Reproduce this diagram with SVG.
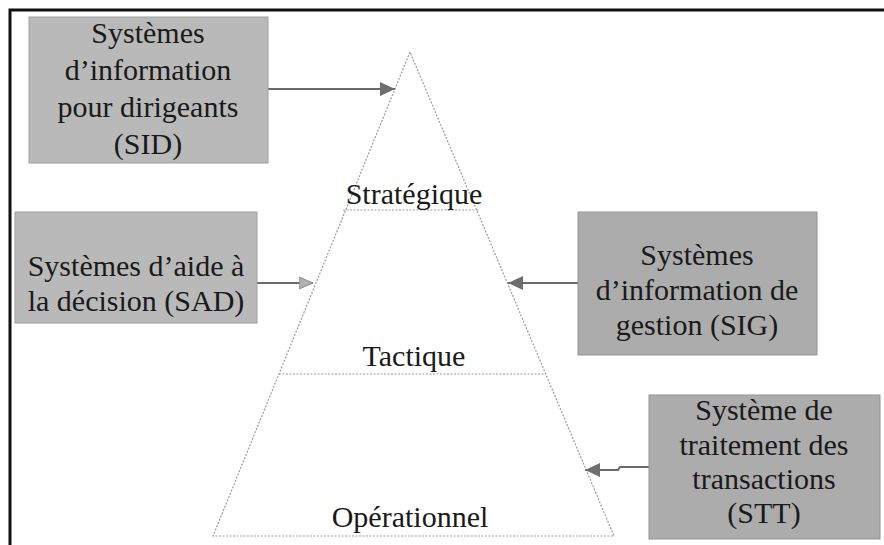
<svg xmlns="http://www.w3.org/2000/svg" width="884" height="545" viewBox="0 0 884 545">
<defs>
<marker id="ah" markerUnits="userSpaceOnUse" markerWidth="16" markerHeight="16" refX="15" refY="8" orient="auto">
<path d="M0,1 L15,8 L0,15 Z" fill="#6e6e6e"/>
</marker>
<marker id="ahl" markerUnits="userSpaceOnUse" markerWidth="16" markerHeight="16" refX="14" refY="7" orient="auto">
<path d="M0,1 L14,7 L0,13 Z" fill="#b0b0b0" stroke="#8a8a8a" stroke-width="1"/>
</marker>
</defs>
<rect width="884" height="545" fill="#ffffff"/>
<g id="frame">
<path d="M10,545 V10 H884" fill="none" stroke="#111" stroke-width="3"/>
</g>
<g id="pyramid" fill="none" stroke="#9a9a9a" stroke-width="1.2" stroke-dasharray="2 1.5">
<path d="M410,52 L213,536 L614,536 Z"/>
<line x1="343" y1="210" x2="478" y2="210"/>
<line x1="279" y1="374" x2="546" y2="374"/>
</g>
<g id="levels">
<text x="414" y="204" font-family="Liberation Serif, Times New Roman, serif" font-size="30" fill="#1a1a1a" text-anchor="middle">Stratégique</text>
<text x="414" y="366" font-family="Liberation Serif, Times New Roman, serif" font-size="30" fill="#1a1a1a" text-anchor="middle">Tactique</text>
<text x="410" y="527" font-family="Liberation Serif, Times New Roman, serif" font-size="30" fill="#1a1a1a" text-anchor="middle">Opérationnel</text>
</g>
<g id="connectors" stroke="#6a6a6a" stroke-width="2" fill="none">
<line x1="268" y1="89" x2="395" y2="89" marker-end="url(#ah)"/>
<line x1="257" y1="283" x2="313" y2="283" marker-end="url(#ahl)"/>
<line x1="578" y1="283" x2="508" y2="283" marker-end="url(#ah)"/>
<polyline points="649,467 620,467 618,470 585,470" marker-end="url(#ah)"/>
</g>
<g id="SID">
<rect x="29" y="17" width="239" height="146" fill="#b9b9b9" stroke="#a0a0a0"/>
<text x="148" y="43" font-family="Liberation Serif, Times New Roman, serif" font-size="30" fill="#1a1a1a" text-anchor="middle">Systèmes</text>
<text x="148" y="80" font-family="Liberation Serif, Times New Roman, serif" font-size="30" fill="#1a1a1a" text-anchor="middle">d’information</text>
<text x="148" y="117" font-family="Liberation Serif, Times New Roman, serif" font-size="30" fill="#1a1a1a" text-anchor="middle">pour dirigeants</text>
<text x="148" y="154" font-family="Liberation Serif, Times New Roman, serif" font-size="30" fill="#1a1a1a" text-anchor="middle">(SID)</text>
</g>
<g id="SAD">
<rect x="15" y="212" width="242" height="111" fill="#b9b9b9" stroke="#a0a0a0"/>
<text x="136" y="276" font-family="Liberation Serif, Times New Roman, serif" font-size="30" fill="#1a1a1a" text-anchor="middle">Systèmes d’aide à</text>
<text x="136" y="311" font-family="Liberation Serif, Times New Roman, serif" font-size="30" fill="#1a1a1a" text-anchor="middle">la décision (SAD)</text>
</g>
<g id="SIG">
<rect x="578" y="212" width="239" height="143" fill="#acacac" stroke="#939393"/>
<text x="697" y="265" font-family="Liberation Serif, Times New Roman, serif" font-size="30" fill="#1a1a1a" text-anchor="middle">Systèmes</text>
<text x="697" y="300" font-family="Liberation Serif, Times New Roman, serif" font-size="30" fill="#1a1a1a" text-anchor="middle">d’information de</text>
<text x="697" y="335" font-family="Liberation Serif, Times New Roman, serif" font-size="30" fill="#1a1a1a" text-anchor="middle">gestion (SIG)</text>
</g>
<g id="STT">
<rect x="649" y="395" width="231" height="144" fill="#acacac" stroke="#939393"/>
<text x="764" y="420" font-family="Liberation Serif, Times New Roman, serif" font-size="30" fill="#1a1a1a" text-anchor="middle">Système de</text>
<text x="764" y="455" font-family="Liberation Serif, Times New Roman, serif" font-size="30" fill="#1a1a1a" text-anchor="middle">traitement des</text>
<text x="764" y="489" font-family="Liberation Serif, Times New Roman, serif" font-size="30" fill="#1a1a1a" text-anchor="middle">transactions</text>
<text x="764" y="523" font-family="Liberation Serif, Times New Roman, serif" font-size="30" fill="#1a1a1a" text-anchor="middle">(STT)</text>
</g>
</svg>
